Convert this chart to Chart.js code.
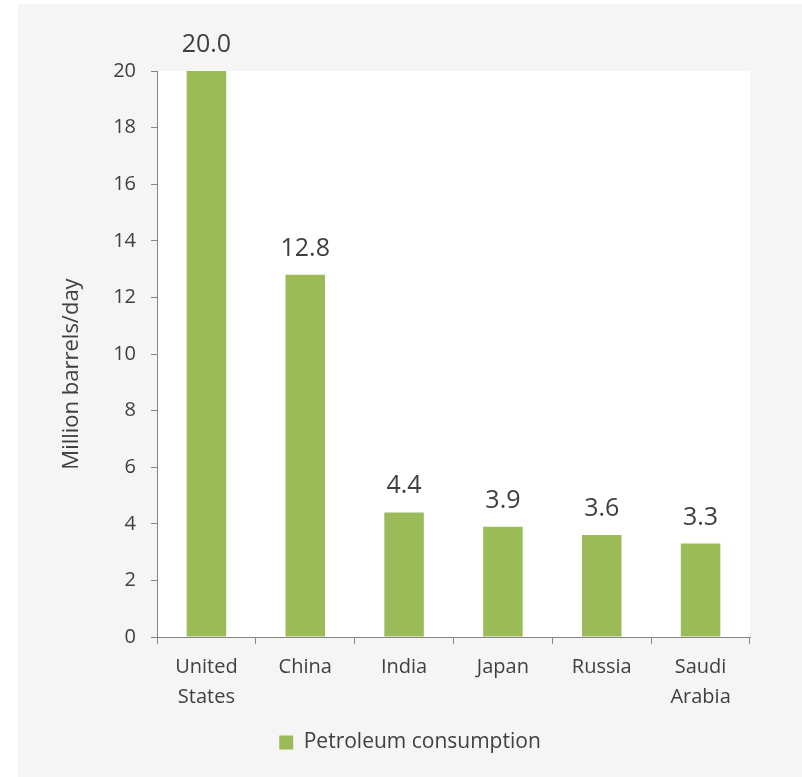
<!DOCTYPE html>
<html>
<head>
<meta charset="utf-8">
<script src="https://cdn.jsdelivr.net/npm/chart.js@4/dist/chart.umd.min.js"></script>
<style>
  html, body { margin: 0; padding: 0; background: #ffffff; width: 802px; height: 777px; overflow: hidden; }
  #wrap { position: absolute; left: 18px; top: 4px; width: 784px; height: 773px; background: #f5f5f5; }
  canvas { display: block; }
</style>
</head>
<body>
<div id="wrap"><canvas id="c" width="784" height="773"></canvas></div>
<script>
const categories = [["United", "States"], "China", "India", "Japan", "Russia", ["Saudi", "Arabia"]];
const consumption = [20.0, 12.8, 4.4, 3.9, 3.6, 3.3];
const seriesName = "Petroleum consumption";
const yTicks = [0, 2, 4, 6, 8, 10, 12, 14, 16, 18, 20];
const yTitle = "Million barrels/day";

const FONT = "'Open Sans', 'DejaVu Sans', sans-serif";
const TEXT = "#404040";
const AXIS = "#868686";
const GREEN = "#9bbb59";

const plotBg = {
  id: 'plotBg',
  beforeDraw(chart) {
    const {ctx, chartArea: a} = chart;
    ctx.save();
    ctx.fillStyle = '#ffffff';
    ctx.fillRect(a.left, a.top, a.right - a.left, a.bottom - a.top);
    ctx.restore();
  }
};

const valueLabels = {
  id: 'valueLabels',
  afterDatasetsDraw(chart) {
    const {ctx} = chart;
    const meta = chart.getDatasetMeta(0);
    ctx.save();
    ctx.font = "25px " + FONT;
    ctx.fillStyle = TEXT;
    ctx.textAlign = 'center';
    ctx.textBaseline = 'alphabetic';
    meta.data.forEach((bar, i) => {
      ctx.fillText(consumption[i].toFixed(1), bar.x, bar.y - 19);
    });
    ctx.restore();
  }
};

const yAxisTitle = {
  id: 'yAxisTitle',
  afterDraw(chart) {
    const {ctx, chartArea: a} = chart;
    ctx.save();
    ctx.font = "22px " + FONT;
    ctx.fillStyle = TEXT;
    ctx.textAlign = 'center';
    ctx.textBaseline = 'middle';
    ctx.translate(54, (a.top + a.bottom) / 2 + 20);
    ctx.rotate(-Math.PI / 2);
    ctx.fillText(yTitle, 0, 0);
    ctx.restore();
  }
};

new Chart(document.getElementById('c'), {
  type: 'bar',
  data: {
    labels: categories,
    datasets: [{
      label: seriesName,
      data: consumption,
      backgroundColor: GREEN,
      borderWidth: 0,
      barPercentage: 0.4,
      categoryPercentage: 1.0
    }]
  },
  options: {
    responsive: false,
    animation: false,
    devicePixelRatio: 1,
    layout: { padding: { left: 0, top: 67, right: 0, bottom: 14 } },
    plugins: {
      legend: {
        position: 'bottom',
        labels: {
          boxWidth: 14, boxHeight: 14, padding: 10,
          color: TEXT,
          font: { family: FONT, size: 21 }
        }
      },
      tooltip: { enabled: false }
    },
    scales: {
      x: {
        grid: { display: true, drawOnChartArea: false, drawTicks: true, tickLength: 7, color: AXIS, offset: true },
        border: { display: true, color: AXIS, width: 1 },
        ticks: { color: TEXT, font: { family: FONT, size: 20, lineHeight: 1.5 }, padding: 8, maxRotation: 0, autoSkip: false },
        afterFit(scale) { scale.height = 85; }
      },
      y: {
        min: 0, max: 20,
        afterBuildTicks(scale) { scale.ticks = yTicks.map(v => ({ value: v })); },
        grid: { display: true, drawOnChartArea: false, drawTicks: true, tickLength: 6, color: AXIS },
        border: { display: true, color: AXIS, width: 1 },
        ticks: { color: TEXT, font: { family: FONT, size: 20 }, padding: 15 },
        title: { display: false },
        afterFit(scale) { scale.width = 139; }
      },
      yRight: {
        position: 'right',
        display: true,
        min: 0, max: 20,
        grid: { display: false },
        border: { display: false },
        ticks: { display: false },
        afterFit(scale) { scale.width = 52; }
      }
    }
  },
  plugins: [plotBg, valueLabels, yAxisTitle]
});
</script>
</body>
</html>
